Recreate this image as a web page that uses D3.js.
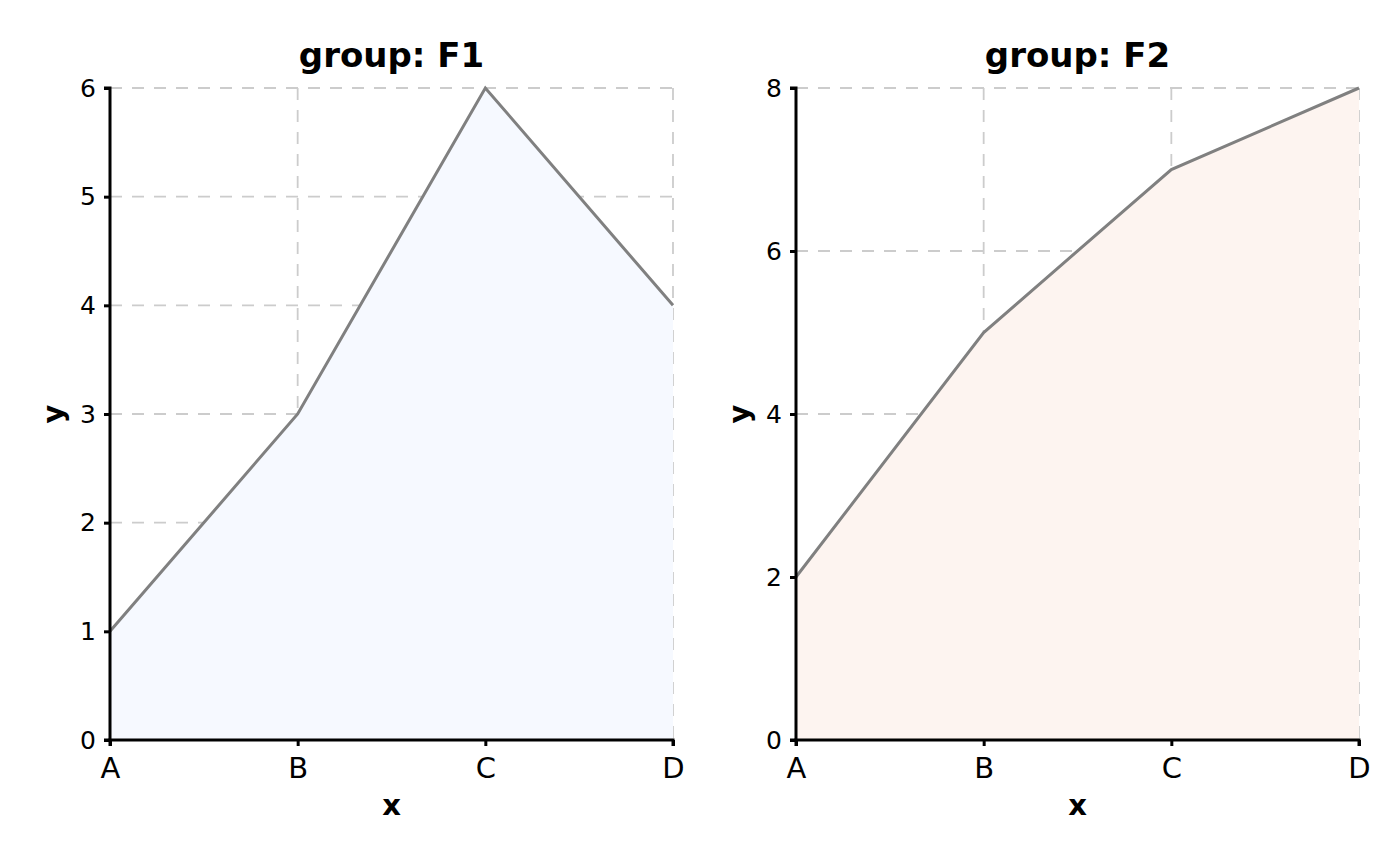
<!DOCTYPE html>
<html><head><meta charset="utf-8">
<script src="https://cdn.jsdelivr.net/npm/d3@7"></script>
<style>body{margin:0;background:#fff}svg{display:block;font-family:"DejaVu Sans",sans-serif}</style>
</head><body><svg id="c" width="1400" height="866"></svg>
<script>
const categories = ["A","B","C","D"];
const groups = ["F1","F2"];
const valuesF1 = [1,3,6,4];
const valuesF2 = [2,5,7,8];
const yTicksF1 = [0,1,2,3,4,5,6];
const yTicksF2 = [0,2,4,6,8];
const fills = ["#f6f9ff","#fdf4f0"];

const panels = [
  {name:groups[0], vals:valuesF1, ticks:yTicksF1, max:6, x0:110, x1:673, fill:fills[0]},
  {name:groups[1], vals:valuesF2, ticks:yTicksF2, max:8, x0:796, x1:1359, fill:fills[1]}
];
const plotTop=88, plotBottom=740;
const svg=d3.select("#c");

panels.forEach(p=>{
  const x=d3.scalePoint().domain(categories).range([p.x0,p.x1]);
  const y=d3.scaleLinear().domain([0,p.max]).range([plotBottom,plotTop]);
  const g=svg.append("g");
  g.selectAll(".gy").data(p.ticks).join("line")
    .attr("x1",p.x0).attr("x2",p.x1).attr("y1",d=>y(d)).attr("y2",d=>y(d))
    .attr("stroke","#cccccc").attr("stroke-width",1.8).attr("stroke-dasharray","12,10");
  g.selectAll(".gx").data(categories).join("line")
    .attr("x1",d=>x(d)).attr("x2",d=>x(d)).attr("y1",plotTop).attr("y2",plotBottom)
    .attr("stroke","#cccccc").attr("stroke-width",1.8).attr("stroke-dasharray","12,10");
  const data=categories.map((c,i)=>({c,v:p.vals[i]}));
  g.append("path").datum(data)
    .attr("d",d3.area().x(d=>x(d.c)).y0(y(0)).y1(d=>y(d.v)))
    .attr("fill",p.fill);
  g.append("path").datum(data)
    .attr("d",d3.line().x(d=>x(d.c)).y(d=>y(d.v)))
    .attr("fill","none").attr("stroke","#808080").attr("stroke-width",3);
  const ax=g.append("g").attr("transform",`translate(0,${plotBottom})`)
    .call(d3.axisBottom(x).tickSize(6).tickPadding(11));
  const ay=g.append("g").attr("transform",`translate(${p.x0},0)`)
    .call(d3.axisLeft(y).tickValues(p.ticks).tickFormat(d3.format("d")).tickSize(6).tickPadding(8));
  [ax,ay].forEach(a=>{
    a.attr("font-family","DejaVu Sans");
    a.select(".domain").attr("stroke","#000").attr("stroke-width",3);
    a.selectAll(".tick line").attr("stroke","#000").attr("stroke-width",3);
    a.selectAll(".tick text").attr("fill","#000");
  });
  ax.attr("font-size",29);
  ay.attr("font-size",25);
  ax.select(".domain").attr("d",`M${p.x0},6V0H${p.x1}V6`);
  ay.select(".domain").attr("d",`M-6,${plotTop}H0V${plotBottom}H-6`);
  const cx=(p.x0+p.x1)/2;
  g.append("text").attr("x",cx).attr("y",67).attr("text-anchor","middle")
    .attr("font-size",34).attr("font-weight","bold").text("group: "+p.name);
  g.append("text").attr("x",cx).attr("y",815).attr("text-anchor","middle")
    .attr("font-size",29).attr("font-weight","bold").text("x");
  g.append("text").attr("transform",`translate(${p.x0-47},${(plotTop+plotBottom)/2}) rotate(-90)`)
    .attr("text-anchor","middle").attr("font-size",29).attr("font-weight","bold").text("y");
});
</script></body></html>
